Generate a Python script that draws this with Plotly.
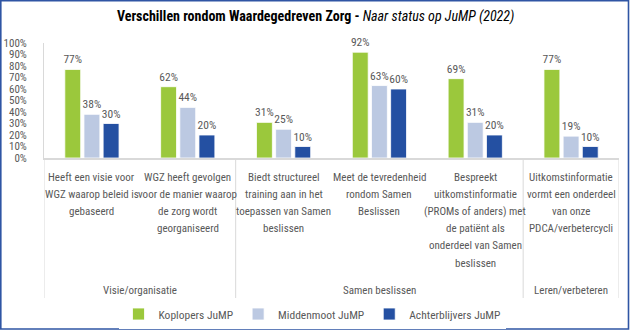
import plotly.graph_objects as go

# Survey items (x categories), grouped into themes
categories = [
    "Heeft een visie voor<br>WGZ waarop beleid is<br>gebaseerd",
    "WGZ heeft gevolgen<br>voor de manier waarop<br>de zorg wordt<br>georganiseerd",
    "Biedt structureel<br>training aan in het<br>toepassen van Samen<br>beslissen",
    "Meet de tevredenheid<br>rondom Samen<br>Beslissen",
    "Bespreekt<br>uitkomstinformatie<br>(PROMs of anders) met<br>de patiënt als<br>onderdeel van Samen<br>beslissen",
    "Uitkomstinformatie<br>vormt een onderdeel<br>van onze<br>PDCA/verbetercycli",
]
themes = ["Visie/organisatie", "Samen beslissen", "Leren/verbeteren"]
theme_sizes = [2, 3, 1]

series_names = ["Koplopers JuMP", "Middenmoot JuMP", "Achterblijvers JuMP"]
koplopers = [77, 62, 31, 92, 69, 77]
middenmoot = [38, 44, 25, 63, 31, 19]
achterblijvers = [30, 20, 10, 60, 20, 10]
series_values = [koplopers, middenmoot, achterblijvers]
series_colors = ["#9BC83C", "#BCC9E2", "#2450A2"]

y_ticks = list(range(0, 101, 10))
y_tick_labels = [f"{v}%" for v in y_ticks]

FONT = "Roboto Condensed, DejaVu Sans Condensed, sans-serif"
GREY = "#595959"

W, H = 630, 331
ML, MR, MT, MB = 44, 11, 43, 173
PW, PH = W - ML - MR, H - MT - MB

def px_to_py(py):
    """Pixel row (from top) to paper y."""
    return (H - MB - py) / PH

def px_to_px(px):
    return (px - ML) / PW

x_idx = list(range(len(categories)))

fig = go.Figure()
for name, vals, col in zip(series_names, series_values, series_colors):
    fig.add_trace(go.Bar(
        x=x_idx, y=vals, name=name,
        marker=dict(color=col, line=dict(color="white", width=0.8)),
        text=[f"{v}%" for v in vals], textposition="outside",
        constraintext="none",
        textfont=dict(family=FONT, size=11.5, color=GREY),
        cliponaxis=False,
    ))

shapes = []
annotations = []

# Category labels, one annotation per line for a fixed line pitch
for i, label in enumerate(categories):
    for j, line in enumerate(label.split("<br>")):
        annotations.append(dict(text=line, xref="x", yref="paper",
                                x=i, y=px_to_py(177 + 17.2 * j),
                                showarrow=False, yanchor="middle",
                                font=dict(family=FONT, size=11, color=GREY)))

# Theme dividers and theme labels below the category labels
bounds = [-0.5]
for s in theme_sizes:
    bounds.append(bounds[-1] + s)
for b in bounds:
    shapes.append(dict(type="line", xref="x", yref="paper",
                       x0=b, x1=b, y0=0, y1=px_to_py(298),
                       line=dict(color="#D9D9D9", width=1)))
for t, a, b in zip(themes, bounds[:-1], bounds[1:]):
    annotations.append(dict(text=t, xref="x", yref="paper",
                            x=(a + b) / 2, y=px_to_py(290),
                            showarrow=False, yanchor="middle",
                            font=dict(family=FONT, size=11, color=GREY)))

# Title with bold and italic parts
annotations.append(dict(
    text="<b>Verschillen rondom Waardegedreven Zorg - </b><i>Naar status op JuMP (2022)</i>",
    xref="paper", yref="paper", x=px_to_px(315), y=px_to_py(17),
    xanchor="center", yanchor="middle", showarrow=False,
    font=dict(family=FONT, size=14, color="#000000")))

# Frame around the whole chart
shapes.append(dict(type="rect", xref="paper", yref="paper",
                   x0=px_to_px(0.8), x1=px_to_px(628.5),
                   y0=px_to_py(329), y1=px_to_py(0.8),
                   line=dict(color="#2F55A4", width=1.6), layer="above"))

fig.update_layout(
    width=W, height=H,
    margin=dict(l=ML, r=MR, t=MT, b=MB, autoexpand=False),
    paper_bgcolor="white", plot_bgcolor="white",
    barmode="group", bargap=0.4, bargroupgap=0.17,
    font=dict(family=FONT, size=12, color=GREY),
    showlegend=True,
    legend=dict(orientation="h", x=px_to_px(312), xanchor="center",
                y=px_to_py(314), yanchor="middle",
                font=dict(family=FONT, size=11.5, color=GREY),
                itemwidth=30, traceorder="normal"),
    shapes=shapes, annotations=annotations,
    xaxis=dict(tickmode="array", tickvals=x_idx, ticktext=[""] * len(x_idx),
               range=[-0.5, len(categories) - 0.5],
               showline=True, linecolor="#D9D9D9", linewidth=1.5,
               showgrid=False, ticks="", automargin=False),
    yaxis=dict(range=[0, 100], tickmode="array", tickvals=y_ticks,
               ticktext=y_tick_labels, automargin=False,
               showline=True, linecolor="#D9D9D9", linewidth=1,
               showgrid=False, zeroline=False, ticks="",
               ticklabelstandoff=14,
               tickfont=dict(family=FONT, size=11, color=GREY)),
)

fig.write_html("out.html")
